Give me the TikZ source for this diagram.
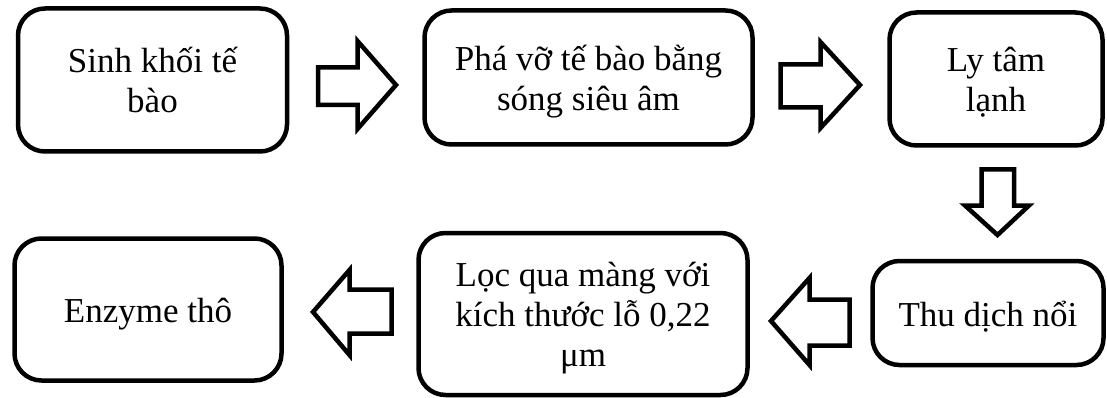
\documentclass[tikz,border=0pt]{standalone}
\usepackage{fontspec}
\setmainfont{Liberation Serif}
% text size and a fixed line height so every text block sits the same way
\newcommand\stepfont{\fontsize{35}{40}\selectfont\lineskiplimit=-100pt\relax}
\newcommand\boxstrut{\rule[-7pt]{0pt}{40pt}}
\begin{document}
\begin{tikzpicture}[x=1pt,y=-1pt,
  stepbox/.style={draw=black, line width=4.5pt, rounded corners=27pt,
    fill=white, align=center, inner sep=0pt, font=\stepfont},
  blockarrow/.style={draw=black, line width=4.5pt, line join=miter,
    fill=white}]
\useasboundingbox (0,0) rectangle (1107,398);

% process steps
\node[stepbox, minimum width=269pt, minimum height=143pt] (b1) at (152.5,80)
  {\boxstrut Sinh khối tế\\\boxstrut bào};
\node[stepbox, minimum width=328pt, minimum height=134pt] (b2) at (588.5,77.5)
  {\boxstrut Phá vỡ tế bào bằng\\\boxstrut sóng siêu âm};
\node[stepbox, minimum width=213pt, minimum height=133pt] (b3) at (996,79)
  {\boxstrut Ly tâm\\\boxstrut lạnh};
\node[stepbox, minimum width=231pt, minimum height=104pt] (b4) at (988,313)
  {\boxstrut Thu dịch nổi};
\node[stepbox, minimum width=329pt, minimum height=162pt] (b5) at (583,314)
  {\boxstrut Lọc qua màng với\\\boxstrut kích thước lỗ 0,22\\\boxstrut μm};
\node[stepbox, minimum width=267pt, minimum height=142pt] (b6) at (148,309.5)
  {\boxstrut Enzyme thô};

% block arrows between the steps
\draw[blockarrow] (318,67.5) -- (357.5,67.5) -- (357.5,41) -- (396,85)
  -- (357.5,129) -- (357.5,105) -- (318,105) -- cycle;
\draw[blockarrow] (780.5,64.5) -- (820.5,64.5) -- (820.5,42) -- (860,85)
  -- (820.5,128) -- (820.5,107.5) -- (780.5,107.5) -- cycle;
\draw[blockarrow] (981.5,169.5) -- (1014,169.5) -- (1014,205.5) -- (1029,205.5)
  -- (997.5,235) -- (965,205.5) -- (981.5,205.5) -- cycle;
\draw[blockarrow] (849.5,299.5) -- (809.5,299.5) -- (809.5,278) -- (771,321)
  -- (809.5,365) -- (809.5,345.5) -- (849.5,345.5) -- cycle;
\draw[blockarrow] (391.5,289.5) -- (349.5,289.5) -- (349.5,270) -- (313,312)
  -- (349.5,355) -- (349.5,333.5) -- (391.5,333.5) -- cycle;
\end{tikzpicture}
\end{document}
